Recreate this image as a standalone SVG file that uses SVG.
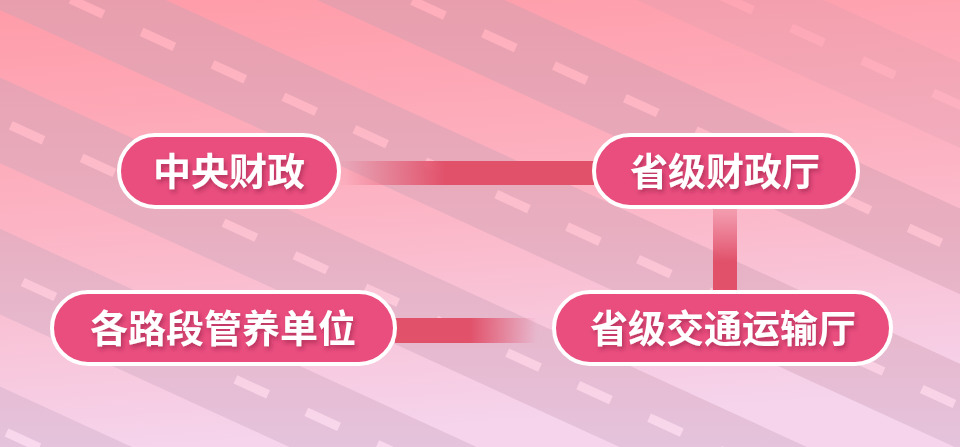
<svg xmlns="http://www.w3.org/2000/svg" width="960" height="447" viewBox="0 0 960 447">
<defs>
<linearGradient id="bg" x1="0" y1="0" x2="0.15" y2="1">
<stop offset="0" stop-color="#ff9ba8"/>
<stop offset="0.5" stop-color="#fcb4c4"/>
<stop offset="1" stop-color="#f5d4ec"/>
</linearGradient>
<linearGradient id="roadG" gradientUnits="userSpaceOnUse" x1="0" y1="0" x2="0" y2="447" gradientTransform="rotate(-24.6)">
<stop offset="0" stop-color="#e89ead"/>
<stop offset="0.5" stop-color="#e8aec0"/>
<stop offset="1" stop-color="#e5c3dc"/>
</linearGradient>
<linearGradient id="dashG" gradientUnits="userSpaceOnUse" x1="0" y1="0" x2="0" y2="447" gradientTransform="rotate(-24.6)">
<stop offset="0" stop-color="#ffadba"/>
<stop offset="0.5" stop-color="#fcc0cf"/>
<stop offset="1" stop-color="#f8d9ee"/>
</linearGradient>
<linearGradient id="gTop" gradientUnits="userSpaceOnUse" x1="345" y1="0" x2="445" y2="0">
<stop offset="0" stop-color="#e1516a" stop-opacity="0.05"/>
<stop offset="1" stop-color="#e1516a" stop-opacity="1"/>
</linearGradient>
<linearGradient id="gVert" gradientUnits="userSpaceOnUse" x1="0" y1="212" x2="0" y2="262">
<stop offset="0" stop-color="#e1516a" stop-opacity="0.3"/>
<stop offset="1" stop-color="#e1516a" stop-opacity="1"/>
</linearGradient>
<linearGradient id="gBot" gradientUnits="userSpaceOnUse" x1="470" y1="0" x2="537" y2="0">
<stop offset="0" stop-color="#e1516a" stop-opacity="1"/>
<stop offset="1" stop-color="#e1516a" stop-opacity="0"/>
</linearGradient>
<filter id="ts" x="-10%" y="-30%" width="120%" height="160%">
<feDropShadow dx="2" dy="3" stdDeviation="2" flood-color="#8c1a45" flood-opacity="0.55"/>
</filter>
</defs>
<style>
.road{fill:url(#roadG)}
.dash{stroke:url(#dashG);stroke-width:9;stroke-dasharray:36 42;fill:none}
.pill{fill:#e94e7e;stroke:#ffffff;stroke-width:4}
.lbl{font-family:"Noto Sans CJK SC","Noto Sans CJK JP",sans-serif;font-weight:700;font-size:38px;fill:#ffffff;text-anchor:middle;filter:url(#ts)}
</style>
<rect x="0" y="0" width="960" height="447" fill="url(#bg)"/>
<g id="background-roads" transform="rotate(24.6)">
<g opacity="0.45">
<rect class="road" x="-300" y="-343" width="1700" height="78"/>
<line class="dash" x1="-49" y1="-304" x2="1300" y2="-304"/>
</g>
<rect class="road" x="-300" y="-210" width="1700" height="78"/>
<line class="dash" x1="-93" y1="-171" x2="1300" y2="-171"/>
<rect class="road" x="-300" y="-69" width="1700" height="78"/>
<line class="dash" x1="-92" y1="-30" x2="1300" y2="-30"/>
<rect class="road" x="-300" y="70.5" width="1700" height="78"/>
<line class="dash" x1="-94" y1="109.5" x2="1300" y2="109.5"/>
<rect class="road" x="-300" y="208" width="1700" height="78"/>
<line class="dash" x1="-96" y1="247" x2="1300" y2="247"/>
<rect class="road" x="-300" y="351.5" width="1700" height="78"/>
<line class="dash" x1="-48" y1="390.5" x2="1300" y2="390.5"/>
</g>
<g id="connectors">
<rect x="341" y="161" width="253" height="24" fill="url(#gTop)"/>
<rect x="713" y="208" width="24" height="84" fill="url(#gVert)"/>
<rect x="395" y="318" width="145" height="25" fill="url(#gBot)"/>
</g>
<g id="node-central">
<rect class="pill" x="119" y="135" width="220" height="72" rx="36"/>
<text class="lbl" x="229" y="185">中央财政</text>
</g>
<g id="node-provincial-finance">
<rect class="pill" x="594" y="135" width="264" height="72" rx="36"/>
<text class="lbl" x="725" y="185">省级财政厅</text>
</g>
<g id="node-road-units">
<rect class="pill" x="52" y="292" width="343" height="72" rx="36"/>
<text class="lbl" x="223" y="342">各路段管养单位</text>
</g>
<g id="node-provincial-transport">
<rect class="pill" x="554" y="292" width="337" height="72" rx="36"/>
<text class="lbl" x="723" y="342">省级交通运输厅</text>
</g>
</svg>
